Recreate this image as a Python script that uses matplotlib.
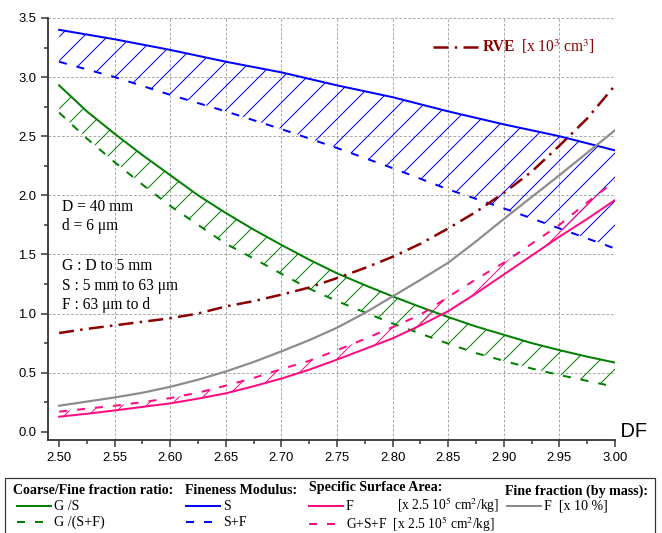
import numpy as np
import matplotlib
matplotlib.use("Agg")
import matplotlib.pyplot as plt
from matplotlib.lines import Line2D
from matplotlib.patches import Rectangle

# --- data (DF = 2.500 ... 3.000, step 0.025) ---
df = [2.500, 2.525, 2.550, 2.575, 2.600, 2.625, 2.650, 2.675, 2.700, 2.725, 2.750,
      2.775, 2.800, 2.825, 2.850, 2.875, 2.900, 2.925, 2.950, 2.975, 3.000]
g_s = [2.93, 2.71, 2.52, 2.34, 2.17, 2.00, 1.85, 1.71, 1.58, 1.455, 1.34,
       1.24, 1.145, 1.055, 0.97, 0.89, 0.82, 0.75, 0.69, 0.635, 0.585]
g_sf = [2.70, 2.48, 2.28, 2.09, 1.91, 1.75, 1.59, 1.465, 1.335, 1.21, 1.105,
        1.01, 0.915, 0.83, 0.745, 0.665, 0.60, 0.535, 0.48, 0.43, 0.38]
fm_s = [3.40, 3.36, 3.32, 3.275, 3.23, 3.18, 3.13, 3.085, 3.04, 2.985, 2.93,
        2.88, 2.83, 2.77, 2.71, 2.655, 2.60, 2.55, 2.50, 2.44, 2.38]
fm_sf = [3.13, 3.065, 3.00, 2.925, 2.85, 2.78, 2.71, 2.635, 2.56, 2.48, 2.40,
         2.315, 2.23, 2.14, 2.05, 1.97, 1.89, 1.805, 1.72, 1.635, 1.55]
ssa_f = [0.127, 0.152, 0.18, 0.21, 0.24, 0.28, 0.325, 0.385, 0.45, 0.525, 0.61,
         0.70, 0.79, 0.90, 1.02, 1.17, 1.33, 1.49, 1.65, 1.80, 1.96]
ssa_gsf = [0.17, 0.195, 0.22, 0.25, 0.285, 0.33, 0.39, 0.455, 0.53, 0.60, 0.69,
           0.785, 0.885, 0.99, 1.14, 1.29, 1.43, 1.59, 1.75, 1.94, 2.12]
fine_frac = [0.22, 0.255, 0.29, 0.33, 0.38, 0.44, 0.51, 0.59, 0.68, 0.775, 0.88,
             1.005, 1.145, 1.285, 1.43, 1.61, 1.80, 1.985, 2.17, 2.36, 2.55]
rve = [0.835, 0.87, 0.90, 0.93, 0.96, 1.00, 1.06, 1.105, 1.16, 1.22, 1.30,
       1.385, 1.48, 1.59, 1.72, 1.86, 2.02, 2.20, 2.42, 2.65, 2.93]

x_ticks = [2.50, 2.55, 2.60, 2.65, 2.70, 2.75, 2.80, 2.85, 2.90, 2.95, 3.00]
y_ticks = [0.0, 0.5, 1.0, 1.5, 2.0, 2.5, 3.0, 3.5]

GREEN = "#008000"
BLUE = "#0000ff"
PINK = "#ff0a80"
GRAY = "#8c8c8c"
DRED = "#8b0000"

plt.rcParams["mathtext.fontset"] = "stix"
plt.rcParams["hatch.linewidth"] = 1.0

W, H, DPI = 662, 533, 72
fig = plt.figure(figsize=(W / DPI, H / DPI), dpi=DPI)


def fx(x):
    return x / W


def fy(y):
    return 1 - y / H


ax = fig.add_axes([fx(48), fy(440), fx(615) - fx(48), fy(18) - fy(440)])
ax.set_xlim(2.49, 3.0)
ax.set_ylim(-0.07, 3.5)

# grid (dashed gray at the major ticks, inside the data range)
for xv in x_ticks[1:-1]:
    ax.axvline(xv, color="#a0a0a0", lw=0.9, ls=(0, (3, 2)), zorder=0)
for yv in y_ticks[1:]:
    ax.axhline(yv, color="#a0a0a0", lw=0.9, ls=(0, (3, 2)), zorder=0)

dash = (0, (4, 5))

# hatched bands
ax.fill_between(df, fm_s, fm_sf, facecolor="none", edgecolor=BLUE, hatch="/", linewidth=0)
ax.fill_between(df, g_s, g_sf, facecolor="none", edgecolor=GREEN, hatch="/", linewidth=0)
ax.fill_between(df, ssa_f, ssa_gsf, facecolor="none", edgecolor=PINK, hatch="/", linewidth=0)

ax.plot(df, fm_s, color=BLUE, lw=2)
ax.plot(df, fm_sf, color=BLUE, lw=2, ls=dash)
ax.plot(df, g_s, color=GREEN, lw=2)
ax.plot(df, g_sf, color=GREEN, lw=2, ls=dash)
ax.plot(df, ssa_f, color=PINK, lw=2)
ax.plot(df, ssa_gsf, color=PINK, lw=2, ls=dash)
ax.plot(df, fine_frac, color=GRAY, lw=2.2)
ax.plot(df, rve, color=DRED, lw=2.5, ls=(0, (6, 2.5, 1, 2.5)))

for s in ["top", "right"]:
    ax.spines[s].set_visible(False)
for s in ["left", "bottom"]:
    ax.spines[s].set_color("#333333")
    ax.spines[s].set_linewidth(1.8)

ax.set_xticks(x_ticks)
ax.set_xticklabels([f"{v:.2f}" for v in x_ticks])
ax.set_xticks(np.arange(2.525, 3.0, 0.05), minor=True)
ax.set_yticks(y_ticks)
ax.set_yticklabels([f"{v:.1f}" for v in y_ticks])
ax.set_yticks(np.arange(0.25, 3.5, 0.5), minor=True)
ax.tick_params(which="major", length=7, width=1.5, color="#333333",
               labelsize=13, labelfontfamily="Liberation Sans", pad=5)
ax.tick_params(which="minor", length=4, width=1.5, color="#333333")

ax.text(3.0, 0.0, " DF", fontsize=20, family="Liberation Sans",
        ha="left", va="center", transform=ax.transData, clip_on=False)

# annotations
serif = "Liberation Serif"
for i, t in enumerate(["D = 40 mm", "d = 6 \u03bcm"]):
    fig.text(fx(62), fy(207 + 19 * i), t, fontsize=15.5, family=serif, va="center")
for i, t in enumerate(["G : D to 5 mm", "S : 5 mm to 63 \u03bcm", "F : 63 \u03bcm to d"]):
    fig.text(fx(62), fy(266 + 19.5 * i), t, fontsize=15.5, family=serif, va="center")

# RVE key inside the plot
fig.add_artist(Line2D([fx(433), fx(478)], [fy(47), fy(47)], color=DRED, lw=2.5,
                      ls=(0, (6, 2.5, 1, 2.5))))
fig.text(fx(483), fy(47), "RVE", fontsize=15.5, family=serif, weight="bold",
         color=DRED, va="center")
fig.text(fx(521), fy(47), "[x 10$^{3}$ cm$^{3}$]", fontsize=15.5, family=serif,
         color=DRED, va="center")

# legend box below the axes
fig.add_artist(Rectangle((fx(5), fy(540)), fx(655) - fx(5), fy(478) - fy(540),
                         facecolor="none", edgecolor="#333333", lw=1.2))

heads = [(13, 490, "Coarse/Fine fraction ratio:"), (185, 490, "Fineness Modulus:"),
         (309, 487, "Specific Surface Area:"), (505, 491, "Fine fraction (by mass):")]
for x, y, t in heads:
    fig.text(fx(x), fy(y), t, fontsize=14, family=serif, weight="bold", va="center")

keys = [
    (17, 506, GREEN, "-", "G /S", 14),
    (17, 522, GREEN, dash, "G /(S+F)", 14),
    (186, 506, BLUE, "-", "S", 14),
    (186, 522, BLUE, dash, "S+F", 14),
    (309, 506, PINK, "-", "F", 14),
    (309, 524, PINK, dash, "G+S+F  [x 2.5 10$^{5}$ cm$^{2}$/kg]", 13.5),
    (507, 506, GRAY, "-", "F  [x 10 %]", 14),
]
for x, y, c, ls, t, fs in keys:
    fig.add_artist(Line2D([fx(x), fx(x + 34)], [fy(y), fy(y)], color=c, lw=2, ls=ls))
    fig.text(fx(x + 37), fy(y), t, fontsize=fs, family=serif, va="center")
fig.text(fx(397), fy(505.5), "[x 2.5 10$^{5}$ cm$^{2}$/kg]", fontsize=13.5, family=serif,
         va="center")

fig.savefig("out.png", dpi=DPI)
